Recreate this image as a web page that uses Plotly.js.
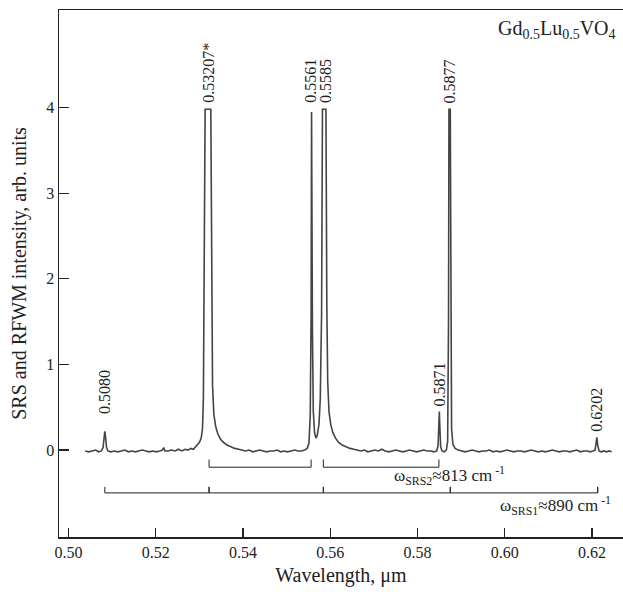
<!DOCTYPE html>
<html>
<head>
<meta charset="utf-8">
<script src="https://cdn.plot.ly/plotly-3.0.1.min.js"></script>
<style>html,body{margin:0;padding:0;background:#fff;}#chart{width:623px;height:594px;}</style>
</head>
<body>
<div id="chart"></div>
<script>
// Spectrum: wavelength (µm) and intensity (arb. units)
const wavelength = [
  0.5038,0.5046,0.5054,0.5062,0.5069,0.5075,0.5079,0.5081,0.5083,0.5085,0.5087,0.5090,
  0.5097,0.5105,0.5113,0.5121,0.5129,0.5137,0.5145,0.5153,0.5161,0.5169,0.5177,0.5185,
  0.5193,0.5201,0.5209,0.5215,0.5218,0.5221,0.5228,0.5236,0.5244,0.5252,0.5260,0.5267,
  0.5274,0.5280,0.5286,0.5291,0.5296,0.5300,0.5304,0.5307,0.5309,0.5311,0.5313,
  0.5326,0.5328,0.5330,0.5333,0.5337,0.5342,0.5348,0.5355,0.5363,0.5372,0.5381,0.5390,
  0.5398,0.5406,0.5414,0.5422,0.5430,0.5438,0.5446,0.5454,0.5462,0.5470,0.5478,0.5486,
  0.5494,0.5502,0.5510,0.5518,0.5526,0.5534,0.5541,0.5547,0.5551,0.5554,0.5556,0.5557,
  0.5559,0.5561,0.5564,0.5567,0.5570,0.5574,0.5577,0.5580,0.5582,
  0.5590,0.5592,0.5594,0.5597,0.5601,0.5606,0.5612,0.5619,0.5627,0.5636,0.5645,0.5654,
  0.5662,0.5670,0.5678,0.5686,0.5694,0.5702,0.5710,0.5718,0.5726,0.5734,0.5742,0.5750,
  0.5758,0.5766,0.5774,0.5782,0.5790,0.5798,0.5806,0.5814,0.5822,0.5830,0.5838,0.5844,
  0.5847,0.5849,0.5850,0.5851,0.5853,0.5856,0.5861,0.5866,0.5869,0.5871,0.5872,
  0.5875,0.5876,0.5878,0.5881,0.5886,0.5893,0.5901,0.5909,0.5917,0.5925,0.5933,0.5941,
  0.5949,0.5957,0.5965,0.5973,0.5981,0.5989,0.5997,0.6005,0.6013,0.6021,0.6029,0.6037,
  0.6045,0.6053,0.6061,0.6069,0.6077,0.6085,0.6093,0.6101,0.6109,0.6117,0.6125,0.6133,
  0.6141,0.6149,0.6157,0.6165,0.6173,0.6181,0.6189,0.6196,0.6202,0.6207,0.6209,0.6211,
  0.6213,0.6216,0.6221,0.6227,0.6233,0.6239,0.6245
];
const intensity = [
  -0.01,-0.02,-0.01,0.00,-0.02,-0.01,0.03,0.15,0.22,0.14,0.03,-0.01,
  -0.02,-0.01,-0.02,-0.01,0.00,-0.02,-0.01,-0.02,-0.01,0.00,-0.01,-0.02,
  -0.01,-0.02,-0.01,0.00,0.03,-0.01,-0.01,0.00,-0.01,0.01,-0.01,0.01,
  0.00,0.02,0.01,0.04,0.06,0.09,0.14,0.25,0.60,1.80,3.98,
  3.98,1.60,0.75,0.42,0.28,0.19,0.13,0.09,0.06,0.04,0.02,0.01,
  0.00,-0.01,0.00,-0.02,-0.01,0.00,-0.01,-0.02,-0.01,-0.01,0.00,-0.02,
  -0.01,-0.02,-0.01,0.00,-0.01,-0.01,0.00,0.02,0.08,0.40,1.60,3.95,
  1.40,0.45,0.20,0.14,0.17,0.30,0.60,1.60,3.98,
  3.98,1.70,0.80,0.45,0.30,0.20,0.14,0.09,0.06,0.04,0.02,0.01,
  0.00,-0.01,0.00,-0.02,-0.01,0.00,-0.01,0.01,-0.01,-0.02,-0.01,0.00,
  -0.01,-0.02,-0.01,0.00,-0.01,-0.02,-0.01,0.00,-0.01,-0.01,-0.02,-0.01,
  0.05,0.30,0.45,0.28,0.04,-0.01,-0.02,0.00,0.10,1.50,3.98,
  3.98,1.40,0.25,0.07,0.02,0.00,-0.01,-0.02,-0.01,0.00,-0.01,-0.02,
  -0.01,-0.01,0.00,-0.02,-0.01,-0.02,-0.01,0.00,-0.01,-0.02,-0.01,-0.01,
  -0.02,-0.01,0.00,-0.01,-0.02,-0.01,-0.02,-0.01,0.00,-0.01,-0.02,-0.01,
  -0.01,-0.02,-0.01,0.00,-0.02,-0.01,-0.01,-0.02,-0.01,0.00,0.07,0.15,
  0.06,-0.01,-0.02,-0.01,-0.02,-0.01,-0.02
];

// Peak labels
const peakLabels = ['0.5080','0.53207*','0.5561','0.5585','0.5871','0.5877','0.6202'];
const peakLabelX = [0.5084, 0.5319, 0.5553, 0.5588, 0.5850, 0.5873, 0.6211];
const peakLabelY = [0.40, 4.03, 4.03, 4.03, 0.49, 4.03, 0.19];

// Raman shift brackets
const srs2Spans = [[0.5322, 0.5556], [0.5584, 0.5849]];
const srs1Ticks = [0.5083, 0.5322, 0.5584, 0.5875, 0.6213];
const srs2Label = 'ω<sub>SRS2</sub>≈813 cm<sup> -1</sup>';
const srs1Label = 'ω<sub>SRS1</sub>≈890 cm<sup> -1</sup>';

// Axis ticks
const xTicks = [0.50, 0.52, 0.54, 0.56, 0.58, 0.60, 0.62];
const yTicks = [0, 1, 2, 3, 4];

const FONT = '"Liberation Serif", "Times New Roman", Times, serif';
const INK = '#222';

const traces = [{
  x: wavelength, y: intensity, type: 'scatter', mode: 'lines',
  line: {color: '#444', width: 1.6}, hoverinfo: 'skip', showlegend: false
}];

// SRS2 brackets (ends turned up)
const y2 = -0.20, y2e = -0.11;
srs2Spans.forEach(s => {
  traces.push({x: [s[0], s[0], s[1], s[1]], y: [y2e, y2, y2, y2e], type: 'scatter', mode: 'lines',
    line: {color: INK, width: 1}, hoverinfo: 'skip', showlegend: false});
});
// SRS1 long bracket with ticks
const y1 = -0.50, y1t = -0.43;
const bx = [], by = [];
srs1Ticks.forEach((t, i) => {
  if (i === 0) { bx.push(t, t); by.push(y1t, y1); }
  else { bx.push(t, t, t); by.push(y1, y1t, y1); }
});
traces.push({x: bx, y: by, type: 'scatter', mode: 'lines',
  line: {color: INK, width: 1}, hoverinfo: 'skip', showlegend: false});

const annotations = peakLabels.map((t, i) => ({
  x: peakLabelX[i], y: peakLabelY[i], xref: 'x', yref: 'y', text: t, showarrow: false,
  textangle: -90, xanchor: 'center', yanchor: 'bottom',
  font: {family: FONT, size: 16, color: INK}
}));
annotations.push({
  x: 0.5874, y: -0.30, xref: 'x', yref: 'y', text: srs2Label, showarrow: false,
  xanchor: 'center', yanchor: 'middle', font: {family: FONT, size: 17, color: INK}
});
annotations.push({
  x: 0.6247, y: -0.65, xref: 'x', yref: 'y', text: srs1Label, showarrow: false,
  xanchor: 'right', yanchor: 'middle', font: {family: FONT, size: 17, color: INK}
});
annotations.push({
  x: 0.992, y: 0.963, xref: 'paper', yref: 'paper', text: 'Gd<sub>0.5</sub>Lu<sub>0.5</sub>VO<sub>4</sub>',
  showarrow: false, xanchor: 'right', yanchor: 'middle', font: {family: FONT, size: 20, color: INK}
});

const layout = {
  width: 623, height: 594,
  margin: {l: 59, r: 0, t: 9.5, b: 57},
  paper_bgcolor: '#fff', plot_bgcolor: '#fff',
  font: {family: FONT, size: 16, color: INK},
  showlegend: false,
  xaxis: {
    range: [0.4978, 0.6271], tickvals: xTicks, tickformat: '.2f',
    ticks: 'inside', ticklen: 9, tickwidth: 1.2, tickcolor: INK,
    showline: true, linecolor: INK, linewidth: 1.5, mirror: true,
    showgrid: false, zeroline: false,
    tickfont: {family: FONT, size: 16, color: INK},
    title: {text: 'Wavelength, μm', font: {family: FONT, size: 20, color: INK}, standoff: 8}
  },
  yaxis: {
    range: [-1.015, 5.14], tickvals: yTicks,
    ticks: 'inside', ticklen: 10, tickwidth: 1.2, tickcolor: INK,
    showline: true, linecolor: INK, linewidth: 1.5,
    showgrid: false, zeroline: false,
    tickfont: {family: FONT, size: 16, color: INK},
    title: {text: 'SRS and RFWM intensity, arb. units', font: {family: FONT, size: 20, color: INK}, standoff: 14}
  },
  annotations: annotations
};

Plotly.newPlot('chart', traces, layout, {staticPlot: true, displayModeBar: false});
</script>
</body>
</html>
